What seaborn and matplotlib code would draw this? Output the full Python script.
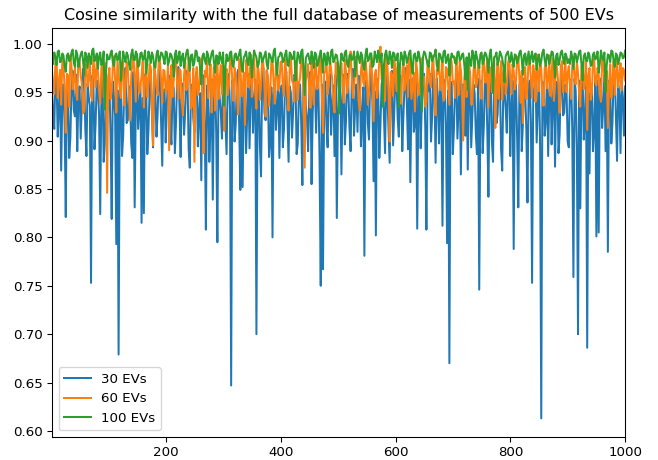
import numpy as np
import pandas as pd
import matplotlib
matplotlib.use("Agg")
import matplotlib.pyplot as plt
import seaborn as sns

sim_30 = [
    0.951, 0.928, 0.912, 0.971, 0.962, 0.904, 0.935, 0.957, 0.869, 0.943, 0.958, 0.917, 0.821, 0.964, 0.947, 0.882, 0.903, 0.955, 0.972, 0.931, 0.925, 0.968, 0.889, 0.946, 0.956, 0.902, 0.938, 0.974, 0.968, 0.913, 0.884, 0.959, 0.945, 0.936, 0.753, 0.967, 0.961, 0.891, 0.918, 0.962, 0.952, 0.927, 0.824, 0.949, 0.966, 0.878, 0.897, 0.969, 0.941, 0.933,
    0.958, 0.907, 0.819, 0.961, 0.944, 0.925, 0.793, 0.952, 0.679, 0.941, 0.962, 0.884, 0.905, 0.963, 0.975, 0.918, 0.921, 0.956, 0.948, 0.897, 0.882, 0.971, 0.831, 0.939, 0.969, 0.912, 0.936, 0.958, 0.815, 0.944, 0.825, 0.968, 0.957, 0.886, 0.911, 0.951, 0.973, 0.929, 0.893, 0.966, 0.949, 0.904, 0.928, 0.973, 0.965, 0.921, 0.874, 0.945, 0.953, 0.898,
    0.938, 0.961, 0.967, 0.913, 0.896, 0.958, 0.954, 0.887, 0.919, 0.965, 0.976, 0.935, 0.883, 0.959, 0.947, 0.906, 0.931, 0.972, 0.962, 0.891, 0.872, 0.953, 0.958, 0.924, 0.909, 0.967, 0.971, 0.894, 0.927, 0.949, 0.859, 0.968, 0.963, 0.917, 0.808, 0.957, 0.952, 0.878, 0.915, 0.963, 0.839, 0.942, 0.966, 0.907, 0.795, 0.961, 0.944, 0.929, 0.902, 0.969,
    0.958, 0.921, 0.886, 0.957, 0.969, 0.934, 0.647, 0.962, 0.955, 0.899, 0.917, 0.966, 0.973, 0.915, 0.849, 0.958, 0.852, 0.944, 0.961, 0.887, 0.929, 0.969, 0.892, 0.951, 0.967, 0.908, 0.942, 0.963, 0.700, 0.937, 0.958, 0.896, 0.863, 0.964, 0.975, 0.929, 0.921, 0.972, 0.951, 0.883, 0.899, 0.955, 0.800, 0.946, 0.963, 0.911, 0.934, 0.967, 0.882, 0.948,
    0.957, 0.893, 0.912, 0.964, 0.971, 0.925, 0.878, 0.956, 0.949, 0.903, 0.931, 0.968, 0.966, 0.886, 0.897, 0.952, 0.958, 0.919, 0.854, 0.964, 0.973, 0.937, 0.924, 0.889, 0.946, 0.971, 0.855, 0.928, 0.962, 0.951, 0.908, 0.966, 0.955, 0.877, 0.750, 0.958, 0.767, 0.942, 0.961, 0.915, 0.893, 0.962, 0.969, 0.906, 0.938, 0.957, 0.884, 0.968, 0.820, 0.931,
    0.952, 0.963, 0.865, 0.941, 0.968, 0.896, 0.921, 0.969, 0.957, 0.913, 0.889, 0.961, 0.974, 0.905, 0.936, 0.958, 0.909, 0.967, 0.963, 0.894, 0.928, 0.955, 0.781, 0.962, 0.959, 0.918, 0.901, 0.965, 0.971, 0.939, 0.858, 0.951, 0.802, 0.964, 0.955, 0.882, 0.917, 0.958, 0.966, 0.927, 0.887, 0.967, 0.948, 0.913, 0.877, 0.960, 0.972, 0.895, 0.931, 0.965,
    0.961, 0.922, 0.904, 0.967, 0.953, 0.889, 0.926, 0.958, 0.975, 0.936, 0.891, 0.963, 0.857, 0.948, 0.964, 0.909, 0.918, 0.961, 0.809, 0.943, 0.958, 0.892, 0.937, 0.966, 0.969, 0.914, 0.808, 0.957, 0.951, 0.969, 0.899, 0.925, 0.972, 0.953, 0.877, 0.964, 0.944, 0.897, 0.962, 0.941, 0.812, 0.963, 0.955, 0.918, 0.794, 0.952, 0.670, 0.961, 0.959, 0.886,
    0.913, 0.957, 0.967, 0.902, 0.932, 0.964, 0.865, 0.946, 0.958, 0.911, 0.905, 0.966, 0.870, 0.953, 0.971, 0.893, 0.924, 0.958, 0.949, 0.907, 0.886, 0.964, 0.746, 0.938, 0.962, 0.887, 0.915, 0.969, 0.956, 0.912, 0.842, 0.955, 0.968, 0.899, 0.878, 0.962, 0.943, 0.918, 0.927, 0.967, 0.965, 0.891, 0.869, 0.959, 0.952, 0.933, 0.908, 0.968, 0.973, 0.884,
    0.934, 0.962, 0.788, 0.951, 0.958, 0.903, 0.831, 0.957, 0.966, 0.889, 0.917, 0.964, 0.949, 0.912, 0.836, 0.956, 0.962, 0.918, 0.753, 0.947, 0.955, 0.968, 0.898, 0.935, 0.971, 0.893, 0.613, 0.961, 0.958, 0.905, 0.921, 0.966, 0.884, 0.948, 0.967, 0.896, 0.939, 0.963, 0.873, 0.954, 0.961, 0.887, 0.906, 0.965, 0.974, 0.926, 0.929, 0.958, 0.952, 0.899,
    0.893, 0.958, 0.963, 0.911, 0.759, 0.964, 0.951, 0.893, 0.700, 0.962, 0.830, 0.957, 0.968, 0.901, 0.922, 0.963, 0.686, 0.949, 0.866, 0.958, 0.957, 0.889, 0.911, 0.966, 0.801, 0.962, 0.805, 0.957, 0.964, 0.913, 0.936, 0.968, 0.889, 0.959, 0.785, 0.962, 0.958, 0.897, 0.918, 0.965, 0.971, 0.924, 0.879, 0.958, 0.947, 0.887, 0.962, 0.944, 0.905, 0.956,
]
sim_60 = [
    0.972, 0.958, 0.948, 0.981, 0.985, 0.944, 0.961, 0.973, 0.937, 0.986, 0.979, 0.952, 0.908, 0.969, 0.967, 0.935, 0.988, 0.977, 0.953, 0.962, 0.975, 0.949, 0.942, 0.984, 0.983, 0.967, 0.959, 0.928, 0.931, 0.979, 0.977, 0.956, 0.964, 0.983, 0.946, 0.941, 0.986, 0.970, 0.955, 0.985, 0.971, 0.951, 0.938, 0.976, 0.981, 0.945, 0.962, 0.980, 0.846, 0.966,
    0.975, 0.943, 0.951, 0.978, 0.987, 0.962, 0.929, 0.984, 0.968, 0.953, 0.944, 0.975, 0.982, 0.936, 0.957, 0.981, 0.973, 0.948, 0.921, 0.968, 0.978, 0.986, 0.962, 0.940, 0.989, 0.971, 0.949, 0.957, 0.966, 0.982, 0.934, 0.961, 0.984, 0.945, 0.958, 0.979, 0.976, 0.932, 0.895, 0.977, 0.969, 0.955, 0.947, 0.987, 0.983, 0.963, 0.939, 0.973, 0.972, 0.950,
    0.955, 0.979, 0.890, 0.962, 0.978, 0.945, 0.961, 0.983, 0.987, 0.956, 0.943, 0.974, 0.972, 0.941, 0.926, 0.968, 0.981, 0.952, 0.958, 0.986, 0.969, 0.933, 0.937, 0.975, 0.878, 0.960, 0.976, 0.947, 0.952, 0.981, 0.985, 0.939, 0.887, 0.972, 0.966, 0.983, 0.944, 0.957, 0.979, 0.929, 0.958, 0.976, 0.931, 0.965, 0.984, 0.943, 0.963, 0.978, 0.948, 0.986,
    0.910, 0.965, 0.974, 0.947, 0.956, 0.981, 0.988, 0.960, 0.941, 0.975, 0.969, 0.950, 0.927, 0.984, 0.982, 0.946, 0.953, 0.970, 0.916, 0.983, 0.977, 0.955, 0.961, 0.989, 0.945, 0.972, 0.986, 0.949, 0.933, 0.979, 0.971, 0.942, 0.958, 0.985, 0.980, 0.954, 0.925, 0.973, 0.967, 0.936, 0.949, 0.982, 0.984, 0.959, 0.938, 0.977, 0.974, 0.952, 0.957, 0.981,
    0.982, 0.955, 0.946, 0.984, 0.970, 0.948, 0.931, 0.977, 0.986, 0.962, 0.959, 0.940, 0.975, 0.983, 0.942, 0.958, 0.965, 0.987, 0.983, 0.944, 0.872, 0.961, 0.968, 0.979, 0.951, 0.934, 0.988, 0.966, 0.937, 0.980, 0.976, 0.953, 0.957, 0.987, 0.981, 0.945, 0.908, 0.969, 0.972, 0.983, 0.948, 0.957, 0.985, 0.974, 0.963, 0.939, 0.929, 0.981, 0.977, 0.962,
    0.953, 0.975, 0.980, 0.958, 0.939, 0.984, 0.971, 0.949, 0.958, 0.980, 0.992, 0.966, 0.944, 0.955, 0.976, 0.987, 0.963, 0.941, 0.931, 0.972, 0.984, 0.960, 0.957, 0.982, 0.969, 0.937, 0.947, 0.978, 0.986, 0.958, 0.920, 0.968, 0.973, 0.944, 0.955, 0.985, 0.997, 0.963, 0.962, 0.978, 0.941, 0.988, 0.979, 0.952, 0.899, 0.971, 0.968, 0.946, 0.983, 0.974,
    0.951, 0.980, 0.976, 0.955, 0.938, 0.971, 0.987, 0.952, 0.962, 0.978, 0.945, 0.986, 0.981, 0.943, 0.957, 0.970, 0.930, 0.982, 0.972, 0.947, 0.949, 0.977, 0.985, 0.958, 0.966, 0.935, 0.940, 0.983, 0.978, 0.961, 0.955, 0.979, 0.988, 0.948, 0.926, 0.973, 0.969, 0.984, 0.952, 0.960, 0.983, 0.941, 0.944, 0.976, 0.974, 0.955, 0.937, 0.985, 0.981, 0.959,
    0.961, 0.944, 0.986, 0.968, 0.947, 0.982, 0.973, 0.951, 0.900, 0.964, 0.979, 0.945, 0.956, 0.983, 0.968, 0.937, 0.938, 0.972, 0.984, 0.955, 0.959, 0.981, 0.976, 0.949, 0.943, 0.979, 0.988, 0.960, 0.962, 0.984, 0.934, 0.976, 0.975, 0.950, 0.953, 0.986, 0.913, 0.961, 0.981, 0.943, 0.966, 0.982, 0.942, 0.969, 0.978, 0.948, 0.957, 0.980, 0.985, 0.965,
    0.948, 0.979, 0.972, 0.953, 0.961, 0.985, 0.987, 0.964, 0.939, 0.972, 0.918, 0.958, 0.976, 0.943, 0.955, 0.986, 0.983, 0.962, 0.944, 0.978, 0.969, 0.940, 0.989, 0.967, 0.951, 0.983, 0.974, 0.947, 0.936, 0.975, 0.980, 0.954, 0.963, 0.988, 0.946, 0.970, 0.985, 0.941, 0.958, 0.981, 0.971, 0.956, 0.929, 0.977, 0.982, 0.950, 0.965, 0.984, 0.950, 0.969,
    0.977, 0.956, 0.943, 0.978, 0.986, 0.962, 0.958, 0.982, 0.970, 0.947, 0.935, 0.976, 0.981, 0.953, 0.962, 0.984, 0.911, 0.967, 0.975, 0.942, 0.949, 0.980, 0.987, 0.960, 0.957, 0.975, 0.968, 0.948, 0.940, 0.985, 0.983, 0.962, 0.955, 0.972, 0.913, 0.958, 0.979, 0.944, 0.961, 0.982, 0.947, 0.969, 0.984, 0.955, 0.966, 0.980, 0.952, 0.975, 0.973, 0.962,
]
sim_100 = [
    0.985, 0.979, 0.991, 0.986, 0.978, 0.992, 0.993, 0.981, 0.982, 0.990, 0.988, 0.977, 0.971, 0.988, 0.990, 0.982, 0.984, 0.991, 0.994, 0.980, 0.976, 0.993, 0.989, 0.976, 0.983, 0.989, 0.992, 0.984, 0.967, 0.991, 0.987, 0.975, 0.990, 0.986, 0.979, 0.993, 0.995, 0.982, 0.985, 0.990, 0.974, 0.987, 0.991, 0.978, 0.981, 0.992, 0.932, 0.970, 0.989, 0.984,
    0.984, 0.990, 0.993, 0.980, 0.977, 0.988, 0.990, 0.983, 0.986, 0.992, 0.962, 0.978, 0.992, 0.986, 0.981, 0.991, 0.988, 0.979, 0.973, 0.989, 0.994, 0.984, 0.983, 0.992, 0.989, 0.976, 0.978, 0.990, 0.991, 0.983, 0.985, 0.993, 0.969, 0.981, 0.992, 0.987, 0.980, 0.991, 0.987, 0.977, 0.975, 0.989, 0.993, 0.982, 0.984, 0.991, 0.990, 0.985, 0.979, 0.992,
    0.991, 0.978, 0.982, 0.990, 0.988, 0.983, 0.966, 0.989, 0.993, 0.980, 0.985, 0.992, 0.977, 0.986, 0.990, 0.975, 0.983, 0.991, 0.994, 0.984, 0.972, 0.988, 0.989, 0.977, 0.981, 0.993, 0.992, 0.982, 0.986, 0.974, 0.958, 0.987, 0.990, 0.983, 0.979, 0.992, 0.988, 0.978, 0.984, 0.990, 0.993, 0.981, 0.970, 0.988, 0.987, 0.979, 0.991, 0.985, 0.980, 0.991,
    0.936, 0.975, 0.989, 0.982, 0.983, 0.991, 0.992, 0.979, 0.976, 0.988, 0.990, 0.983, 0.985, 0.990, 0.994, 0.977, 0.971, 0.986, 0.988, 0.992, 0.982, 0.978, 0.991, 0.987, 0.965, 0.982, 0.993, 0.989, 0.986, 0.976, 0.979, 0.991, 0.990, 0.981, 0.984, 0.988, 0.992, 0.979, 0.974, 0.990, 0.988, 0.984, 0.981, 0.992, 0.995, 0.980, 0.968, 0.986, 0.987, 0.991,
    0.990, 0.981, 0.983, 0.989, 0.993, 0.978, 0.977, 0.991, 0.989, 0.984, 0.985, 0.992, 0.962, 0.980, 0.991, 0.987, 0.980, 0.992, 0.994, 0.976, 0.947, 0.985, 0.988, 0.990, 0.984, 0.979, 0.992, 0.986, 0.975, 0.991, 0.989, 0.977, 0.981, 0.988, 0.993, 0.983, 0.970, 0.990, 0.986, 0.978, 0.991, 0.984, 0.979, 0.992, 0.994, 0.981, 0.983, 0.989, 0.988, 0.980,
    0.928, 0.977, 0.990, 0.984, 0.982, 0.991, 0.993, 0.979, 0.976, 0.988, 0.989, 0.983, 0.985, 0.992, 0.966, 0.980, 0.992, 0.986, 0.980, 0.991, 0.988, 0.977, 0.973, 0.989, 0.995, 0.982, 0.984, 0.990, 0.990, 0.976, 0.978, 0.992, 0.987, 0.981, 0.993, 0.986, 0.981, 0.990, 0.935, 0.978, 0.989, 0.993, 0.984, 0.979, 0.992, 0.987, 0.975, 0.991, 0.990, 0.983,
    0.983, 0.990, 0.934, 0.979, 0.991, 0.986, 0.978, 0.992, 0.988, 0.980, 0.985, 0.991, 0.993, 0.978, 0.969, 0.988, 0.990, 0.983, 0.982, 0.992, 0.987, 0.977, 0.930, 0.986, 0.992, 0.990, 0.984, 0.979, 0.976, 0.991, 0.990, 0.982, 0.986, 0.988, 0.994, 0.978, 0.972, 0.990, 0.989, 0.984, 0.981, 0.992, 0.993, 0.980, 0.985, 0.989, 0.967, 0.983, 0.990, 0.986,
    0.987, 0.980, 0.979, 0.991, 0.992, 0.983, 0.984, 0.989, 0.990, 0.978, 0.963, 0.986, 0.952, 0.990, 0.981, 0.977, 0.993, 0.988, 0.975, 0.992, 0.986, 0.981, 0.975, 0.989, 0.991, 0.979, 0.983, 0.991, 0.989, 0.984, 0.970, 0.988, 0.994, 0.980, 0.949, 0.986, 0.987, 0.991, 0.978, 0.983, 0.992, 0.989, 0.985, 0.977, 0.960, 0.987, 0.990, 0.992, 0.984, 0.981,
    0.991, 0.983, 0.976, 0.989, 0.988, 0.980, 0.983, 0.991, 0.993, 0.984, 0.968, 0.988, 0.990, 0.978, 0.985, 0.992, 0.979, 0.986, 0.992, 0.981, 0.987, 0.990, 0.973, 0.984, 0.989, 0.977, 0.982, 0.991, 0.994, 0.983, 0.977, 0.989, 0.988, 0.979, 0.984, 0.992, 0.991, 0.982, 0.965, 0.988, 0.990, 0.978, 0.983, 0.991, 0.993, 0.985, 0.979, 0.990, 0.987, 0.980,
    0.984, 0.979, 0.992, 0.986, 0.974, 0.990, 0.989, 0.981, 0.986, 0.992, 0.993, 0.979, 0.962, 0.987, 0.990, 0.983, 0.982, 0.991, 0.988, 0.977, 0.978, 0.989, 0.991, 0.984, 0.985, 0.992, 0.970, 0.980, 0.993, 0.986, 0.983, 0.991, 0.950, 0.978, 0.989, 0.988, 0.981, 0.993, 0.992, 0.982, 0.976, 0.990, 0.988, 0.979, 0.984, 0.991, 0.990, 0.985, 0.986, 0.993,
]
labels = ["30 EVs", "60 EVs", "100 EVs"]

frames = []
for lab, vals in zip(labels, [sim_30, sim_60, sim_100]):
    frames.append(pd.DataFrame({
        "ev": np.linspace(1, 1000, len(vals)),
        "sim": vals,
        "n": lab,
    }))
df = pd.concat(frames, ignore_index=True)

dpi = 96
fig = plt.figure(figsize=(658 / dpi, 460 / dpi), dpi=dpi)
ax = fig.add_axes([0.079, 0.05, 0.871, 0.889])
sns.lineplot(data=df, x="ev", y="sim", hue="n", hue_order=labels,
             palette="tab10", errorbar=None, ax=ax)
ax.set_xlim(1, 1000)
ax.set_xlabel("")
ax.set_ylabel("")
ax.set_title("Cosine similarity with the full database of measurements of 500 EVs")
h, l = ax.get_legend_handles_labels()
ax.legend(h, l, loc="lower left")
fig.savefig("out.png", dpi=dpi)
